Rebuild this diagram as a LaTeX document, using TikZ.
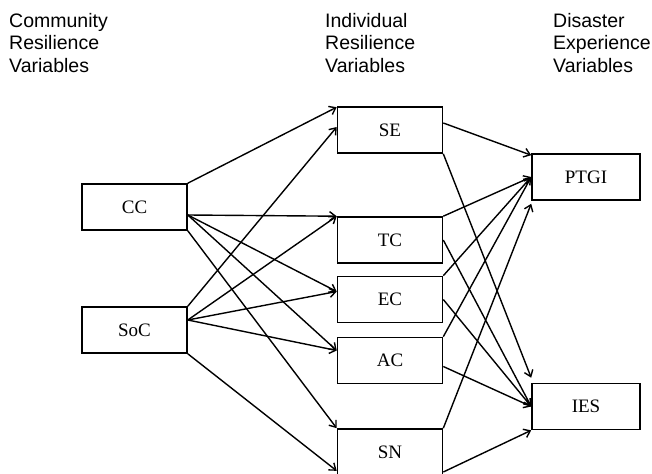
\documentclass[tikz,border=0pt]{standalone}
\usepackage{fontspec}
\setmainfont{Liberation Serif}
\setsansfont{Liberation Sans}
\usetikzlibrary{arrows.meta}

\begin{document}
\begin{tikzpicture}[
  x=1pt, y=-1pt,
  >={Straight Barb[length=6pt,width=9pt]},
  varbox/.style={draw, line width=1.6pt, minimum width=105pt, minimum height=46pt, inner sep=0pt, font=\fontsize{19}{22}\selectfont},
  header/.style={font=\sffamily\fontsize{19.5}{22.5}\selectfont, align=left, anchor=north west, inner sep=0pt},
  link/.style={->, line width=1.4pt}
]
\useasboundingbox (0,0) rectangle (652,473);

% Column headers
\node[header] (hcom) at (9,13) {Community\\Resilience\\Variables};
\node[header] (hind) at (325,13) {Individual\\Resilience\\Variables};
\node[header] (hdis) at (553,13) {Disaster\\Experience\\Variables};

% Community resilience
\node[varbox] (CC) at (134.5,207) {CC};
\node[varbox] (SoC) at (134.5,330) {SoC};
% Individual resilience
\node[varbox] (SE) at (390,130) {SE};
\node[varbox] (TC) at (390,240) {TC};
\node[varbox] (EC) at (390,299.5) {EC};
\node[varbox] (AC) at (390,360.5) {AC};
\node[varbox] (SN) at (390,452) {SN};
% Disaster experience
\node[varbox, minimum width=108pt] (PTGI) at (586,177) {PTGI};
\node[varbox, minimum width=108pt] (IES) at (586,406.5) {IES};

% CC -> individual
\draw[link] (CC.north east) -- ([yshift=-1pt]SE.north west);
\draw[link] ([yshift=-8pt]CC.east) -- (TC.north west);
\draw[link] ([yshift=-8pt]CC.east) -- ([yshift=8pt]EC.west);
\draw[link] ([yshift=-8pt]CC.east) -- ([yshift=10pt]AC.west);
\draw[link] (CC.south east) -- (SN.north west);

% SoC -> individual
\draw[link] (SoC.north east) -- ([yshift=3pt]SE.west);
\foreach \v/\s in {TC.north west/0, EC.west/8, AC.west/10} {
  \draw[link] ([yshift=10pt]SoC.east) -- ([yshift=\s pt]\v);
}
\draw[link] (SoC.south east) -- ([yshift=5pt]SN.south west);

% individual -> PTGI
\draw[link] ([yshift=7pt]SE.east) -- ([yshift=-2pt]PTGI.north west);
\foreach \v in {TC, EC, AC} {
  \draw[link] (\v.north east) -- (PTGI.west);
}
\draw[link] (SN.north east) -- ([yshift=-3pt]PTGI.south west);

% individual -> IES
\draw[link] (SE.south east) -- ([yshift=5pt]IES.north west);
\draw[link] (TC.east) -- (IES.west);
\draw[link] (EC.east) -- (IES.west);
\draw[link] ([yshift=-6pt]AC.east) -- (IES.west);
\draw[link] ([yshift=-20pt]SN.east) -- (IES.south west);

\end{tikzpicture}
\end{document}
